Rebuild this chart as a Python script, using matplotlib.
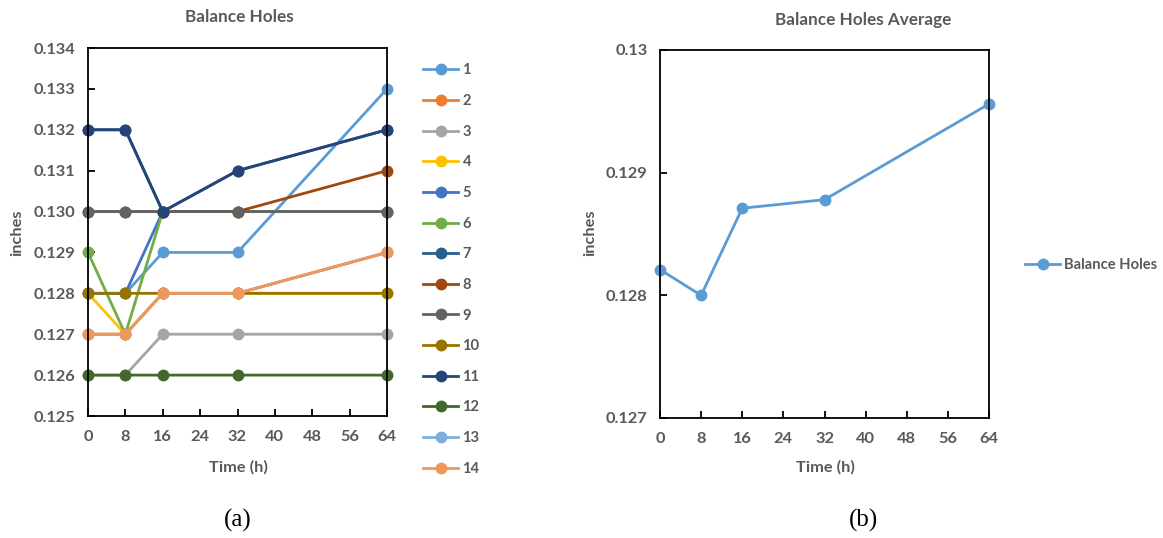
import matplotlib
matplotlib.use("Agg")
import matplotlib.pyplot as plt

plt.rcParams['font.family'] = ['Lato', 'DejaVu Sans']

# data
time_h = [0, 8, 16, 32, 64]
hole_names = [str(i) for i in range(1, 15)]
holes = [
    [0.128, 0.128, 0.129, 0.129, 0.133],  # 1
    [0.127, 0.127, 0.128, 0.128, 0.129],  # 2
    [0.126, 0.126, 0.127, 0.127, 0.127],  # 3
    [0.128, 0.127, 0.128, 0.128, 0.128],  # 4
    [0.128, 0.128, 0.130, 0.130, 0.130],  # 5
    [0.129, 0.127, 0.130, 0.130, 0.130],  # 6
    [0.132, 0.132, 0.130, 0.131, 0.132],  # 7
    [0.130, 0.130, 0.130, 0.130, 0.131],  # 8
    [0.130, 0.130, 0.130, 0.130, 0.130],  # 9
    [0.128, 0.128, 0.128, 0.128, 0.128],  # 10
    [0.132, 0.132, 0.130, 0.131, 0.132],  # 11
    [0.126, 0.126, 0.126, 0.126, 0.126],  # 12
    [0.127, 0.127, 0.128, 0.128, 0.129],  # 13
    [0.127, 0.127, 0.128, 0.128, 0.129],  # 14
]
avg_values = [0.12821, 0.12800, 0.12871, 0.12878, 0.12956]
x_ticks = [0, 8, 16, 24, 32, 40, 48, 56, 64]
left_yticks = [0.125, 0.126, 0.127, 0.128, 0.129, 0.130, 0.131, 0.132, 0.133, 0.134]
right_yticks = [0.127, 0.128, 0.129, 0.130]
right_ylabels = ['0.127', '0.128', '0.129', '0.13']

colors = ['#5B9BD5', '#ED7D31', '#A5A5A5', '#FFC000', '#4472C4', '#70AD47',
          '#255E91', '#9E480E', '#636363', '#997300', '#264478', '#43682B',
          '#7CAFDD', '#F1975A']

W, H = 1163, 538
txt = '#595959'
fs = 11.8
lfs = 10.6  # legend text

fig = plt.figure(figsize=(W / 100, H / 100), dpi=100)


def px_axes(x0, y0, x1, y1):
    return fig.add_axes([x0 / W, 1 - y1 / H, (x1 - x0) / W, (y1 - y0) / H])


def style(ax):
    for s in ax.spines.values():
        s.set_linewidth(1.3)
        s.set_color('black')
    ax.tick_params(direction='in', length=5, width=1.3, labelsize=fs,
                   labelcolor=txt, pad=9)
    ax.tick_params(axis='x', pad=10)
    for lab in ax.get_xticklabels() + ax.get_yticklabels():
        lab.set_fontweight('bold')
    ax.set_xlim(0, 64)
    ax.set_xticks(x_ticks)


# (a) individual holes
ax1 = px_axes(88, 48, 387, 416)
for name, vals, c in zip(hole_names, holes, colors):
    ax1.plot(time_h, vals, color=c, lw=2.0, marker='o', ms=7.5,
             label=name, clip_on=False, snap=False)
ax1.set_ylim(0.125, 0.134)
ax1.set_yticks(left_yticks)
ax1.set_yticklabels(['%.3f' % v for v in left_yticks])
style(ax1)
ax1.legend(loc='upper left', bbox_to_anchor=(423 / W, 1 - 63.5 / H),
           bbox_transform=fig.transFigure, frameon=False,
           borderpad=0, borderaxespad=0,
           labelspacing=1.13, handlelength=2.4, handletextpad=0.28,
           prop={'weight': 'bold', 'size': lfs}, labelcolor=txt)

# (b) average
ax2 = px_axes(660, 50, 989, 418)
ax2.plot(time_h, avg_values, color='#5B9BD5', lw=2.0, marker='o', ms=7.5,
         label='Balance Holes', clip_on=False, snap=False)
ax2.set_ylim(0.127, 0.130)
ax2.set_yticks(right_yticks)
ax2.set_yticklabels(right_ylabels)
style(ax2)
ax2.legend(loc='center left', bbox_to_anchor=(1025 / W, 1 - 265 / H),
           bbox_transform=fig.transFigure, frameon=False,
           borderpad=0, borderaxespad=0,
           handlelength=2.4, handletextpad=0.28,
           prop={'weight': 'bold', 'size': lfs}, labelcolor=txt)

# titles and axis labels
fig.text(239 / W, 1 - 17 / H, 'Balance Holes', ha='center', va='center',
         fontsize=fs + 0.5, fontweight='bold', color=txt)
fig.text(863 / W, 1 - 20 / H, 'Balance Holes Average', ha='center', va='center',
         fontsize=fs + 0.5, fontweight='bold', color=txt)
fig.text(238 / W, 1 - 467 / H, 'Time (h)', ha='center', va='center',
         fontsize=fs, fontweight='bold', color=txt)
fig.text(825 / W, 1 - 467 / H, 'Time (h)', ha='center', va='center',
         fontsize=fs, fontweight='bold', color=txt)
fig.text(17 / W, 1 - 233 / H, 'inches', ha='center', va='center', rotation=90,
         fontsize=fs, fontweight='bold', color=txt)
fig.text(590 / W, 1 - 233 / H, 'inches', ha='center', va='center', rotation=90,
         fontsize=fs, fontweight='bold', color=txt)

fig.text(238 / W, 1 - 520 / H, '(a)', ha='center', va='center',
         fontsize=18, family='Liberation Serif', color='black')
fig.text(863 / W, 1 - 520 / H, '(b)', ha='center', va='center',
         fontsize=18, family='Liberation Serif', color='black')

fig.savefig('out.png', dpi=100)
